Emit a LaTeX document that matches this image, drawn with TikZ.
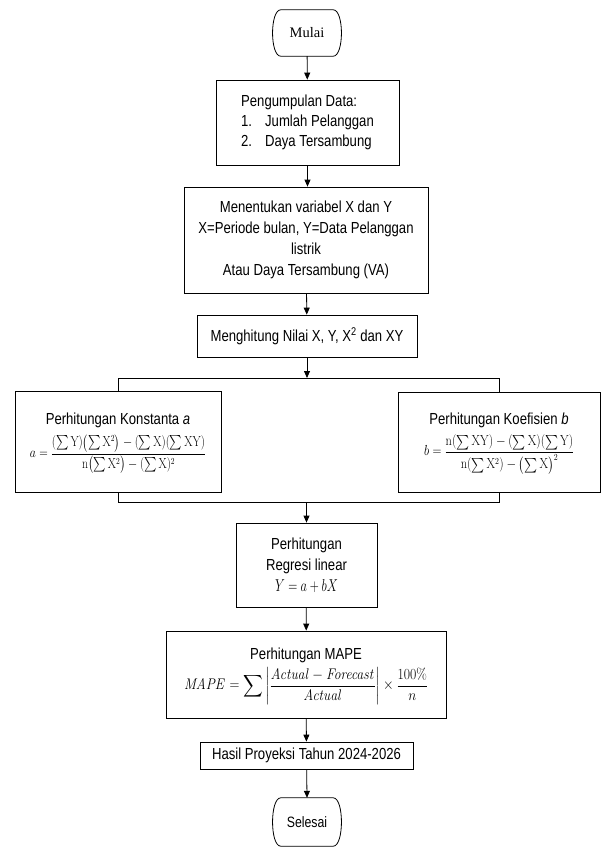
\documentclass[tikz,border=0pt]{standalone}
\usepackage[no-math]{fontspec}
\usepackage{amsmath}
\usepackage{graphicx}
\setmainfont[FakeStretch=0.82]{Liberation Sans}
\newfontfamily\serifn{Liberation Serif}
\usetikzlibrary{arrows.meta}
\begin{document}
\begin{tikzpicture}[x=1pt,y=-1pt,
  box/.style={draw, line width=0.8pt, inner sep=0pt, align=center,
    font=\fontsize{16}{21}\selectfont},
  conn/.style={line width=0.8pt},
  arr/.style={line width=0.8pt, -{Triangle[length=7pt,width=6pt]}}]
\useasboundingbox (0,0) rectangle (604,847);
% terminals
\node[minimum width=74pt, minimum height=46pt, inner sep=0pt, font=\serifn\fontsize{14.5}{16}\selectfont] (M) at (307,33) {Mulai};
\draw[line width=0.8pt] ([xshift=11pt]M.north west) -- ([xshift=-11pt]M.north east)
  .. controls (M.north east) and (M.south east) .. ([xshift=-11pt]M.south east)
  -- ([xshift=11pt]M.south west)
  .. controls (M.south west) and (M.north west) .. cycle;
\node[box, minimum width=183pt, minimum height=85pt] (B1) at (307.5,122.5)
 {\begin{tabular}{@{}l@{}}Pengumpulan Data:\\[-1pt]
   \makebox[24pt][l]{1.}Jumlah Pelanggan\\[-1pt]
   \makebox[24pt][l]{2.}Daya Tersambung\end{tabular}};
\node[box, minimum width=244pt, minimum height=106pt] (B2) at (306,240)
 {Menentukan variabel X dan Y\\X=Periode bulan, Y=Data Pelanggan\\listrik\\Atau Daya Tersambung (VA)};
\node[box, minimum width=220pt, minimum height=42pt] (B3) at (307,336)
 {Menghitung Nilai X, Y, X\textsuperscript{2} dan XY};
\node[box, minimum width=206pt, minimum height=101pt] (BA) at (118,441.5)
 {\begin{tabular}{@{}c@{}}Perhitungan Konstanta \textit{a}\\[4pt]
  \resizebox*{176pt}{39pt}{$a=\dfrac{(\sum \mathrm{Y})\bigl(\sum \mathrm{X}^2\bigr)-(\sum \mathrm{X})(\sum \mathrm{XY})}{\mathrm{n}\bigl(\sum \mathrm{X}^2\bigr)-(\sum \mathrm{X})^2}$}\end{tabular}};
\node[box, minimum width=202pt, minimum height=100pt] (BB) at (499,442)
 {\begin{tabular}{@{}c@{}}Perhitungan Koefisien \textit{b}\\[4pt]
  \resizebox*{150pt}{39pt}{$b=\dfrac{\mathrm{n}(\sum \mathrm{XY})-(\sum \mathrm{X})(\sum \mathrm{Y})}{\mathrm{n}(\sum \mathrm{X}^2)-\bigl(\sum \mathrm{X}\bigr)^2}$}\end{tabular}};
\node[box, minimum width=141pt, minimum height=84pt] (BR) at (306.5,565)
 {Perhitungan\\Regresi linear\\\resizebox*{63pt}{13pt}{$Y=a+bX$}};
\node[box, minimum width=280pt, minimum height=87pt] (BM) at (306,674.5)
 {\begin{tabular}{@{}c@{}}Perhitungan MAPE\\[2pt]
  \resizebox*{244pt}{37pt}{$\mathit{MAPE}=\displaystyle\sum\left|\frac{\mathit{Actual}-\mathit{Forecast}}{\mathit{Actual}}\right|\times\frac{100\%}{n}$}\end{tabular}};
\node[box, minimum width=213pt, minimum height=27pt] (BH) at (306.5,755.5)
 {Hasil Proyeksi Tahun 2024-2026};
\node[minimum width=74pt, minimum height=48pt, inner sep=0pt, font=\fontsize{15}{16}\selectfont] (S) at (307,822) {Selesai};
\draw[line width=0.8pt] ([xshift=11pt]S.north west) -- ([xshift=-11pt]S.north east)
  .. controls (S.north east) and (S.south east) .. ([xshift=-11pt]S.south east)
  -- ([xshift=11pt]S.south west)
  .. controls (S.south west) and (S.north west) .. cycle;
% junctions
\coordinate (J1) at (307,378);
\coordinate (J2) at (306.5,502);
% connectors
\draw[arr] (M) -- (B1);
\draw[arr] (B1) -- (B2.north -| B1.south);
\draw[arr] (B2) -- (B3);
\draw[arr] (B3.south) -- (J1);
\draw[conn] (BA.north) -- (BA.north |- J1) -- (BB.north |- J1) -- (BB.north);
\draw[conn] (BA.south) -- (BA.south |- J2) -- (BB.south |- J2) -- (BB.south);
\draw[arr] (J2) -- (BR.north);
\draw[arr] (BR) -- (BM);
\draw[arr] (BM) -- (BH);
\draw[arr] (BH) -- (S.north);
\end{tikzpicture}
\end{document}
